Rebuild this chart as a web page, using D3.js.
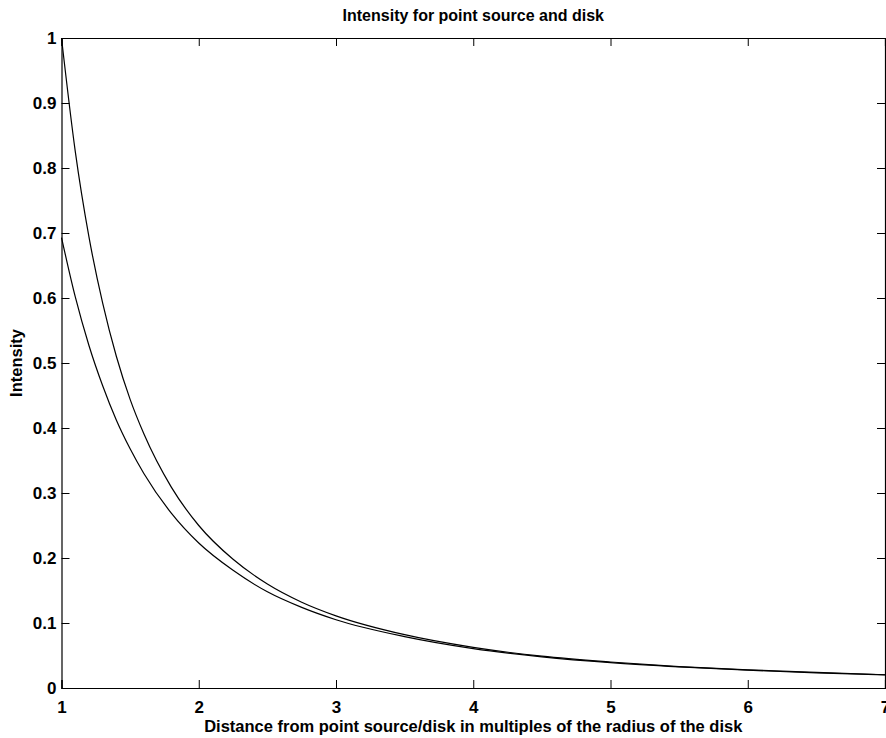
<!DOCTYPE html>
<html>
<head>
<meta charset="utf-8">
<script src="https://cdn.jsdelivr.net/npm/d3@7"></script>
<style>
  body { margin: 0; background: #fff; }
  svg text { font-family: "Liberation Sans", Arial, sans-serif; font-weight: bold; fill: #000; }
</style>
</head>
<body>
<div id="container"></div>
<script>
const w = 886, h = 738;
const margin = { top: 38, right: 1, bottom: 50, left: 61.5 };

// distance (multiples of disk radius)
const distances = [1, 1.1, 1.2, 1.3, 1.4, 1.5, 1.6, 1.8, 2, 2.25, 2.5, 2.75, 3, 3.5, 4, 4.5, 5, 5.5, 6, 6.5, 7];
// intensity
const pointSource = [1, 0.826, 0.694, 0.592, 0.51, 0.444, 0.391, 0.309, 0.25, 0.198, 0.16, 0.132, 0.111, 0.082, 0.0625, 0.049, 0.04, 0.033, 0.028, 0.024, 0.0204];
const disk = [0.693, 0.602, 0.527, 0.465, 0.412, 0.368, 0.33, 0.269, 0.223, 0.181, 0.148, 0.124, 0.105, 0.079, 0.0606, 0.048, 0.039, 0.0325, 0.0274, 0.0234, 0.0202];

const xTicks = [1, 2, 3, 4, 5, 6, 7];
const yTicks = [0, 0.1, 0.2, 0.3, 0.4, 0.5, 0.6, 0.7, 0.8, 0.9, 1];

const x = d3.scaleLinear().domain([1, 7]).range([margin.left, w - margin.right]);
const y = d3.scaleLinear().domain([0, 1]).range([h - margin.bottom, margin.top]);

const svg = d3.select("#container").append("svg")
    .attr("width", w)
    .attr("height", h);

const tick = 8;
const fmt = d => d3.format("~g")(d);

// bottom axis (ticks inward)
svg.append("g")
    .attr("transform", "translate(0," + y(0) + ")")
    .call(d3.axisBottom(x).tickValues(xTicks).tickSize(-tick).tickPadding(13).tickFormat(fmt))
    .call(g => g.selectAll("text").attr("font-size", 17));
// top
svg.append("g")
    .attr("transform", "translate(0," + y(1) + ")")
    .call(d3.axisTop(x).tickValues(xTicks).tickSize(-tick).tickFormat(""));
// left
svg.append("g")
    .attr("transform", "translate(" + x(1) + ",0)")
    .call(d3.axisLeft(y).tickValues(yTicks).tickSize(-tick).tickPadding(5).tickFormat(fmt))
    .call(g => g.selectAll("text").attr("font-size", 17));
// right
svg.append("g")
    .attr("transform", "translate(" + x(7) + ",0)")
    .call(d3.axisRight(y).tickValues(yTicks).tickSize(-tick).tickFormat(""));

svg.selectAll(".domain").attr("stroke", "#000").attr("stroke-width", 1.2);
svg.selectAll(".tick line").attr("stroke", "#000");

const line = d3.line()
    .x((d, i) => x(distances[i]))
    .y(d => y(d))
    .curve(d3.curveMonotoneX);

[pointSource, disk].forEach(series => {
    svg.append("path")
        .datum(series)
        .attr("fill", "none")
        .attr("stroke", "#000")
        .attr("stroke-width", 1.2)
        .attr("d", line);
});

// labels
svg.append("text")
    .attr("x", (x(1) + x(7)) / 2).attr("y", 21)
    .attr("text-anchor", "middle").attr("font-size", 16)
    .text("Intensity for point source and disk");

svg.append("text")
    .attr("x", (x(1) + x(7)) / 2).attr("y", 732)
    .attr("text-anchor", "middle").attr("font-size", 16.5)
    .text("Distance from point source/disk in multiples of the radius of the disk");

svg.append("text")
    .attr("transform", "translate(22," + (y(0.5)) + ") rotate(-90)")
    .attr("text-anchor", "middle").attr("font-size", 16.5)
    .text("Intensity");
</script>
</body>
</html>
